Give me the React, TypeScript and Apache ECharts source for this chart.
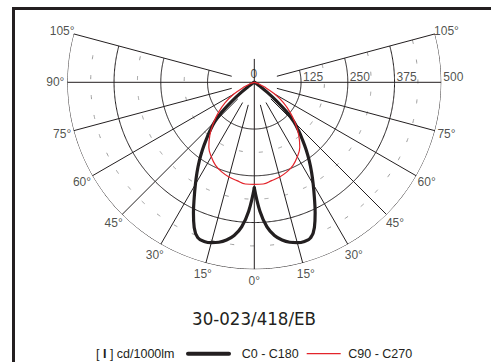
import React, { useEffect, useRef } from "react";
import * as echarts from "echarts";

// Luminous intensity in cd/1000lm against gamma angle (degrees)
const c0Angles = [0, 2.5, 5, 7.5, 10, 12.5, 15, 17.5, 20, 22.5, 25, 27.5, 30, 32.5, 35, 37.5, 40, 42.5, 45, 47.5, 50, 52.5, 55, 60, 65];
const c0c180 = [282, 345, 388, 413, 428, 438, 444, 446, 442, 420, 385, 348, 315, 285, 256, 228, 200, 175, 150, 118, 78, 42, 20, 5, 0];
const c90Angles = [0, 5, 10, 15, 20, 25, 30, 35, 40, 45, 50, 55, 60, 65, 70, 75, 80];
const c90c270 = [273, 273, 267, 262, 255, 245, 230, 212, 185, 155, 125, 95, 63, 32, 12, 3, 0];

const solidRings = [125, 250, 375, 500];
const dashedRings = [187.5, 312.5, 437.5];
const spokeAngles = [15, 30, 45, 60, 75, 105];
const leftAngleLabels = [0, 15, 30, 45, 60, 75, 90, 105];
const rightAngleLabels = [15, 30, 45, 60, 75, 105];
const radialLabels = [0, 125, 250, 375, 500];
const titleText = "30-023/418/EB";
const unitText = "[ {b|I} ] cd/1000lm";
const seriesNames = ["C0 - C180", "C90 - C270"];

const MAX_I = 500;
const SPAN = 105;
const SPOKE_START = 62.5;
const LABEL_R = 532;

const INK = "#231f20";
const RED = "#e3242b";
const LABEL_FONT = "'Liberation Sans', Arial, Helvetica, sans-serif";

function arc(r: number) {
  const pts: number[][] = [];
  for (let a = -SPAN; a <= SPAN + 1e-9; a += 0.5) pts.push([r, a]);
  return pts;
}

function gridLine(data: any[], dashed = false) {
  return {
    type: "line",
    coordinateSystem: "polar",
    data,
    symbol: "none",
    showSymbol: false,
    silent: true,
    clip: false,
    z: 1,
    lineStyle: {
      color: dashed ? "#9d9d9d" : INK,
      width: 1,
      type: dashed ? [4, 16] : "solid",
    },
  };
}

function half(angles: number[], vals: number[], sign: number) {
  return angles.map((a, i) => [vals[i], sign * a]);
}

function curve(data: any[], color: string, width: number, z: number) {
  return {
    type: "line",
    coordinateSystem: "polar",
    data,
    symbol: "none",
    showSymbol: false,
    smooth: 0.4,
    silent: true,
    clip: false,
    z,
    lineStyle: { color, width, cap: "round", join: "round" },
  };
}

export default function App() {
  const ref = useRef<HTMLDivElement>(null);

  useEffect(() => {
    if (!ref.current) return;
    const chart = echarts.init(ref.current, undefined, { renderer: "svg" });

    const series: any[] = [];
    solidRings.forEach((r) => series.push(gridLine(arc(r))));
    dashedRings.forEach((r) => series.push(gridLine(arc(r), true)));
    spokeAngles.forEach((a) => {
      series.push(gridLine([[SPOKE_START, a], [MAX_I, a]]));
      series.push(gridLine([[SPOKE_START, -a], [MAX_I, -a]]));
    });
    series.push(gridLine([[SPOKE_START, 180], [0, 0], [MAX_I, 0]]));
    series.push(gridLine([[MAX_I, 90], [0, 0], [MAX_I, -90]]));

    series.push(curve(half(c0Angles, c0c180, 1), INK, 3.2, 5));
    series.push(curve(half(c0Angles, c0c180, -1), INK, 3.2, 5));
    series.push(curve(half(c90Angles, c90c270, 1), RED, 1.2, 6));
    series.push(curve(half(c90Angles, c90c270, -1), RED, 1.2, 6));

    const labelBase = {
      show: true,
      color: INK,
      fontSize: 12,
      fontFamily: LABEL_FONT,
    };

    series.push({
      type: "scatter",
      coordinateSystem: "polar",
      symbolSize: 0,
      silent: true,
      clip: false,
      z: 10,
      itemStyle: { color: "transparent" },
      data: [
        ...leftAngleLabels.map((a) => ({ value: [LABEL_R, a], name: a + "°" })),
        ...rightAngleLabels.map((a) => ({ value: [LABEL_R, -a], name: a + "°" })),
      ],
      label: { ...labelBase, position: "inside", formatter: "{b}" },
    });

    series.push({
      type: "scatter",
      coordinateSystem: "polar",
      symbolSize: 0,
      silent: true,
      clip: false,
      z: 10,
      itemStyle: { color: "transparent" },
      data: radialLabels.map((v) =>
        v === 0
          ? { value: [0, 180], name: String(v), label: { position: "inside", offset: [-0.5, -8.5] } }
          : { value: [v, -90], name: String(v), label: { position: "right", distance: 2, offset: [0, -5.3] } }
      ),
      label: { ...labelBase, formatter: "{b}" },
    });

    const legendY = 353.7;
    chart.setOption({
      animation: false,
      backgroundColor: "#ffffff",
      polar: { center: [254.3, 82.3], radius: 187 },
      angleAxis: {
        type: "value",
        min: -180,
        max: 180,
        startAngle: 90,
        clockwise: true,
        show: false,
      },
      radiusAxis: { type: "value", min: 0, max: MAX_I, show: false },
      series,
      graphic: [
        {
          type: "rect",
          silent: true,
          shape: { x: 13.5, y: 8.5, width: 800, height: 800 },
          style: { fill: "none", stroke: INK, lineWidth: 3 },
        },
        {
          type: "text",
          x: 254,
          y: 318.3,
          style: {
            text: titleText,
            fontSize: 18.5,
            fontFamily: "'Liberation Sans Narrow', 'DejaVu Sans Condensed', 'Open Sans', sans-serif",
            fill: INK,
            align: "center",
            verticalAlign: "middle",
          },
        },
        {
          type: "text",
          x: 96,
          y: legendY,
          style: {
            text: unitText,
            fontSize: 12.5,
            fontFamily: LABEL_FONT,
            fill: INK,
            align: "left",
            verticalAlign: "middle",
            rich: { b: { fontSize: 12.5, fontWeight: "bold", fontFamily: LABEL_FONT, fill: INK } },
          },
        },
        {
          type: "line",
          shape: { x1: 188, y1: legendY, x2: 229, y2: legendY },
          style: { stroke: INK, lineWidth: 4, lineCap: "round" },
        },
        {
          type: "text",
          x: 241.7,
          y: legendY,
          style: {
            text: seriesNames[0],
            fontSize: 12.5,
            fontFamily: LABEL_FONT,
            fill: INK,
            align: "left",
            verticalAlign: "middle",
          },
        },
        {
          type: "line",
          shape: { x1: 306.7, y1: legendY, x2: 340.7, y2: legendY },
          style: { stroke: RED, lineWidth: 1.3 },
        },
        {
          type: "text",
          x: 348.3,
          y: legendY,
          style: {
            text: seriesNames[1],
            fontSize: 12.5,
            fontFamily: LABEL_FONT,
            fill: INK,
            align: "left",
            verticalAlign: "middle",
          },
        },
      ],
    });

    return () => chart.dispose();
  }, []);

  return (
    <div
      ref={ref}
      style={{ position: "absolute", left: 0, top: 0, width: 491, height: 362, background: "#fff" }}
    />
  );
}
